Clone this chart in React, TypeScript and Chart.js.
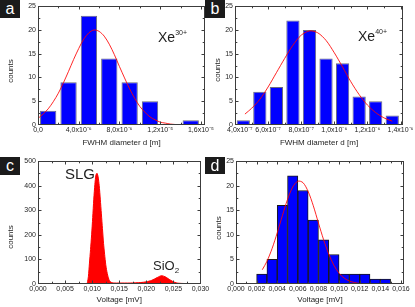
import React, { useEffect, useRef } from "react";
import { Chart, registerables } from "chart.js";

Chart.register(...registerables);

const FONT = "'Liberation Sans', Arial, Helvetica, sans-serif";
const INK = "#1e1e1e";
const FRAME = "#3c3c3c";

// ---------------- Panel a (Xe30+) ----------------
const aBinCenters = [1e-6, 3e-6, 5e-6, 7e-6, 9e-6, 1.1e-5, 1.3e-5, 1.5e-5];
const aCounts = [3, 9, 23, 14, 9, 5, 0, 1];
const aFitX = [0, 0.5e-6, 1e-6, 1.5e-6, 2e-6, 2.5e-6, 3e-6, 3.5e-6, 4e-6, 4.5e-6, 5e-6, 5.5e-6, 6e-6, 6.5e-6, 7e-6, 7.5e-6, 8e-6, 8.5e-6, 9e-6, 9.5e-6, 1e-5, 1.05e-5, 1.1e-5, 1.15e-5, 1.2e-5, 1.25e-5, 1.3e-5, 1.35e-5];
const aFitY = [1.4, 2.3, 3.4, 4.9, 6.7, 8.9, 11.3, 13.8, 16.1, 18.1, 19.4, 20.0, 19.7, 18.7, 17.0, 14.8, 12.3, 9.9, 7.6, 5.6, 3.9, 2.7, 1.7, 1.1, 0.6, 0.4, 0.2, 0.1];
const aXTicks = [0, 4e-6, 8e-6, 1.2e-5, 1.6e-5];
const aXTickLabels = ["0,0", "4,0x10⁻⁶", "8,0x10⁻⁶", "1,2x10⁻⁵", "1,6x10⁻⁵"];
const aYTicks = [0, 5, 10, 15, 20, 25];

// ---------------- Panel b (Xe40+) ----------------
const bBinCenters = [4.5e-7, 5.5e-7, 6.5e-7, 7.5e-7, 8.5e-7, 9.5e-7, 1.05e-6, 1.15e-6, 1.25e-6, 1.35e-6];
const bCounts = [1, 7, 8, 22, 20, 14, 13, 6, 5, 2];
const bFitX = [4.6e-7, 5.0e-7, 5.5e-7, 6.0e-7, 6.5e-7, 7.0e-7, 7.5e-7, 8.0e-7, 8.5e-7, 9.0e-7, 9.5e-7, 1.0e-6, 1.05e-6, 1.1e-6, 1.15e-6, 1.2e-6, 1.25e-6, 1.3e-6, 1.35e-6];
const bFitY = [2.3, 3.5, 5.4, 8.0, 11.0, 14.0, 16.8, 18.9, 19.8, 19.4, 17.8, 15.2, 12.2, 9.1, 6.4, 4.2, 2.6, 1.5, 0.8];
const bXTicks = [4e-7, 6e-7, 8e-7, 1e-6, 1.2e-6, 1.4e-6];
const bXTickLabels = ["\u00a0\u00a0\u00a0\u00a0\u00a04,0x10⁻⁷", "6,0x10⁻⁷", "8,0x10⁻⁷", "1,0x10⁻⁶", "1,2x10⁻⁶", "1,4x10⁻⁶"];
const bYTicks = [0, 5, 10, 15, 20, 25];

// ---------------- Panel c (voltage distribution) ----------------
const cVoltage = [0, 0.0085, 0.0089, 0.0091, 0.0093, 0.0095, 0.0097, 0.0099, 0.0101, 0.0103, 0.0105, 0.0107, 0.0109, 0.0111, 0.0113, 0.0115, 0.0117, 0.0119, 0.0121, 0.0123, 0.0125, 0.0127, 0.0129, 0.0131, 0.0133, 0.0136, 0.014, 0.015, 0.016, 0.017, 0.018, 0.019, 0.02, 0.021, 0.022, 0.0228, 0.0235, 0.024, 0.0245, 0.025, 0.0255, 0.026, 0.027, 0.028, 0.03];
const cCounts = [0, 0, 0, 5, 30, 85, 140, 200, 270, 345, 405, 443, 450, 435, 400, 345, 285, 225, 165, 120, 80, 52, 32, 18, 10, 6, 4, 4, 4, 4, 5, 6, 9, 15, 26, 34, 29, 22, 15, 9, 5, 3, 2, 1, 0];
const cXTicks = [0, 0.005, 0.01, 0.015, 0.02, 0.025, 0.03];
const cXTickLabels = ["0,000", "0,005", "0,010", "0,015", "0,020", "0,025", "0,030"];
const cYTicks = [0, 100, 200, 300, 400, 500];

// ---------------- Panel d (voltage histogram) ----------------
const dBinCenters = [0.0025, 0.0035, 0.0045, 0.0055, 0.0065, 0.0075, 0.0085, 0.0095, 0.0105, 0.0115, 0.0125, 0.0135, 0.0145];
const dCounts = [2, 5, 16, 22, 19, 13, 9, 6, 2, 2, 2, 1, 1];
const dFitX = [0.00255, 0.003, 0.0035, 0.004, 0.0045, 0.005, 0.0055, 0.006, 0.0065, 0.007, 0.0075, 0.008, 0.0085, 0.009, 0.0095, 0.01, 0.0105, 0.011, 0.0115, 0.012];
const dFitY = [2.9, 4.6, 7.2, 10.4, 13.9, 17.2, 19.7, 20.9, 20.6, 18.8, 15.9, 12.4, 9.0, 6.1, 3.8, 2.2, 1.2, 0.6, 0.3, 0.1];
const dXTicks = [0, 0.002, 0.004, 0.006, 0.008, 0.01, 0.012, 0.014, 0.016];
const dXTickLabels = ["0,000", "0,002", "0,004", "0,006", "0,008", "0,010", "0,012", "0,014", "0,016"];
const dYTicks = [0, 5, 10, 15, 20, 25];

const framePlugin = {
  id: "frameTicks",
  afterDatasetsDraw(chart: any) {
    const { ctx, chartArea } = chart;
    const xs = chart.scales.x;
    const ys = chart.scales.y;
    const L = Math.round(chartArea.left) + 0.5;
    const R = Math.round(chartArea.right) - 0.5;
    const T = Math.round(chartArea.top) + 0.5;
    const B = Math.round(chartArea.bottom) - 0.5;
    ctx.save();
    ctx.strokeStyle = FRAME;
    ctx.lineWidth = 1;
    ctx.strokeRect(L, T, R - L, B - T);
    const majLen = 3;
    const minLen = 1.8;
    const withMinor = (pix: number[], lo: number, hi: number) => {
      const minors: number[] = [];
      for (let i = 0; i < pix.length - 1; i++) minors.push((pix[i] + pix[i + 1]) / 2);
      if (pix.length > 1) {
        const d = pix[1] - pix[0];
        const last = pix[pix.length - 1] + d / 2;
        const first = pix[0] - d / 2;
        if (last > Math.min(lo, hi) + 1 && last < Math.max(lo, hi) - 1) minors.push(last);
        if (first > Math.min(lo, hi) + 1 && first < Math.max(lo, hi) - 1) minors.push(first);
      }
      return minors;
    };
    const xMaj = xs.ticks.map((t: any) => xs.getPixelForValue(t.value));
    const yMaj = ys.ticks.map((t: any) => ys.getPixelForValue(t.value));
    const xMin = withMinor(xMaj, L, R);
    const yMin = withMinor(yMaj, T, B);
    ctx.beginPath();
    const vx = (px: number, len: number) => {
      const p = Math.round(px) + 0.5;
      if (p < L || p > R) return;
      ctx.moveTo(p, B);
      ctx.lineTo(p, B - len);
      ctx.moveTo(p, T);
      ctx.lineTo(p, T + len);
    };
    const hy = (py: number, len: number) => {
      const p = Math.round(py) + 0.5;
      if (p < T || p > B) return;
      ctx.moveTo(L, p);
      ctx.lineTo(L + len, p);
      ctx.moveTo(R, p);
      ctx.lineTo(R - len, p);
    };
    xMaj.forEach((p: number) => vx(p, majLen));
    xMin.forEach((p: number) => vx(p, minLen));
    yMaj.forEach((p: number) => hy(p, majLen));
    yMin.forEach((p: number) => hy(p, minLen));
    ctx.stroke();
    ctx.restore();
  },
  afterDraw(chart: any, _args: any, opts: any) {
    if (!opts || !opts.yTitle) return;
    const { ctx } = chart;
    ctx.save();
    ctx.fillStyle = INK;
    ctx.font = `8px ${FONT}`;
    ctx.textAlign = "center";
    ctx.textBaseline = "middle";
    ctx.translate(opts.yTitleX, opts.yTitleY);
    ctx.rotate(-Math.PI / 2);
    ctx.fillText(opts.yTitle, 0, 0);
    ctx.restore();
  },
};

type Spec = {
  x: number; y: number; w: number; h: number;
  pad: { top: number; right: number; left: number; bottom: number };
  yWidth: number; xHeight: number;
  xMin: number; xMax: number; xTicks: number[]; xLabels: string[];
  yMax: number; yTicks: number[];
  xTitle: string; yTitleX: number; yTitleY: number;
  kind: "hist" | "area";
  datasets: any[];
};

function buildConfig(s: Spec): any {
  const tickFont = { family: FONT, size: 7 };
  return {
    type: s.kind === "area" ? "line" : "bar",
    data: { datasets: s.datasets },
    plugins: [framePlugin],
    options: {
      animation: false,
      responsive: false,
      devicePixelRatio: 1,
      events: [],
      layout: { padding: s.pad },
      plugins: {
        legend: { display: false },
        tooltip: { enabled: false },
        frameTicks: { yTitle: "counts", yTitleX: s.yTitleX, yTitleY: s.yTitleY },
      },
      scales: {
        x: {
          type: "linear",
          offset: false,
          min: s.xMin,
          max: s.xMax,
          afterBuildTicks: (sc: any) => {
            sc.ticks = s.xTicks.map((v) => ({ value: v }));
          },
          afterFit: (sc: any) => {
            sc.height = s.xHeight;
          },
          ticks: {
            autoSkip: false,
            maxRotation: 0,
            minRotation: 0,
            padding: 1,
            color: INK,
            font: tickFont,
            callback: (_v: any, i: number) => s.xLabels[i],
          },
          grid: { display: false, drawTicks: false },
          border: { display: false },
          title: {
            display: true,
            text: s.xTitle,
            color: INK,
            font: { family: FONT, size: 8 },
            padding: { top: 0, bottom: 2 },
          },
        },
        y: {
          type: "linear",
          min: 0,
          max: s.yMax,
          afterBuildTicks: (sc: any) => {
            sc.ticks = s.yTicks.map((v) => ({ value: v }));
          },
          afterFit: (sc: any) => {
            sc.width = s.yWidth;
          },
          ticks: {
            padding: 2,
            color: INK,
            font: tickFont,
            callback: (v: any) => String(v),
          },
          grid: { display: false, drawTicks: false },
          border: { display: false },
          title: { display: false },
        },
      },
    },
  };
}

const fitStyle = {
  type: "line",
  borderColor: "rgba(255,0,0,0.85)",
  borderWidth: 1,
  pointRadius: 0,
  tension: 0.3,
  fill: false,
  order: 0,
};

const pts = (xs: number[], ys: number[]) => xs.map((x, i) => ({ x, y: ys[i] }));

const specs: Spec[] = [
  {
    x: 0, y: 0, w: 230, h: 150,
    pad: { top: 4, right: 25, left: 0, bottom: 0 },
    yWidth: 38, xHeight: 25,
    xMin: 0, xMax: 1.64e-5, xTicks: aXTicks, xLabels: aXTickLabels,
    yMax: 25, yTicks: aYTicks,
    xTitle: "FWHM diameter d [m]", yTitleX: 11, yTitleY: 71,
    kind: "hist",
    datasets: [
      {
        type: "bar",
        data: pts(aBinCenters, aCounts),
        backgroundColor: "#0000ff",
        borderColor: "#6a6a80",
        borderWidth: 1,
        barPercentage: 0.8,
        categoryPercentage: 1,
        order: 1,
      },
      { ...fitStyle, data: pts(aFitX, aFitY) },
    ],
  },
  {
    x: 205, y: 0, w: 210, h: 150,
    pad: { top: 4, right: 12, left: 0, bottom: 0 },
    yWidth: 30, xHeight: 25,
    xMin: 4e-7, xMax: 1.415e-6, xTicks: bXTicks, xLabels: bXTickLabels,
    yMax: 25, yTicks: bYTicks,
    xTitle: "FWHM diameter d [m]", yTitleX: 12.5, yTitleY: 70,
    kind: "hist",
    datasets: [
      {
        type: "bar",
        data: pts(bBinCenters, bCounts),
        backgroundColor: "#0000ff",
        borderColor: "#6a6a80",
        borderWidth: 1,
        barPercentage: 0.8,
        categoryPercentage: 1,
        order: 1,
      },
      { ...fitStyle, data: pts(bFitX, bFitY) },
    ],
  },
  {
    x: 0, y: 153, w: 230, h: 154,
    pad: { top: 8, right: 29.5, left: 0, bottom: 0 },
    yWidth: 38, xHeight: 23,
    xMin: 0, xMax: 0.03, xTicks: cXTicks, xLabels: cXTickLabels,
    yMax: 500, yTicks: cYTicks,
    xTitle: "Voltage [mV]", yTitleX: 11, yTitleY: 84,
    kind: "area",
    datasets: [
      {
        type: "line",
        data: pts(cVoltage, cCounts),
        borderColor: "#ff0000",
        backgroundColor: "#ff0000",
        borderWidth: 1,
        pointRadius: 0,
        tension: 0.25,
        fill: "origin",
      },
    ],
  },
  {
    x: 205, y: 153, w: 210, h: 154,
    pad: { top: 8, right: 11, left: 0, bottom: 0 },
    yWidth: 31, xHeight: 23,
    xMin: 0, xMax: 0.0163, xTicks: dXTicks, xLabels: dXTickLabels,
    yMax: 25, yTicks: dYTicks,
    xTitle: "Voltage [mV]", yTitleX: 14, yTitleY: 75,
    kind: "hist",
    datasets: [
      {
        type: "bar",
        data: pts(dBinCenters, dCounts),
        backgroundColor: "#0000ff",
        borderColor: "#1a1a1a",
        borderWidth: 1,
        barPercentage: 1,
        categoryPercentage: 1,
        order: 1,
      },
      { ...fitStyle, data: pts(dFitX, dFitY) },
    ],
  },
];

function Panel({ spec }: { spec: Spec }) {
  const ref = useRef<HTMLCanvasElement | null>(null);
  useEffect(() => {
    if (!ref.current) return;
    const chart = new Chart(ref.current, buildConfig(spec));
    return () => chart.destroy();
  }, [spec]);
  return (
    <canvas
      ref={ref}
      width={spec.w}
      height={spec.h}
      style={{ position: "absolute", left: spec.x, top: spec.y, width: spec.w, height: spec.h }}
    />
  );
}

const labelBox = (text: string, left: number, top: number, h: number) => (
  <div
    key={text}
    style={{
      position: "absolute",
      left,
      top,
      width: 20,
      height: h,
      background: "#1b1b1b",
      color: "#ffffff",
      font: `16px ${FONT}`,
      lineHeight: `${h}px`,
      textAlign: "center",
      zIndex: 2,
    }}
  >
    {text}
  </div>
);

const annot = (left: number, top: number, size: number, children: any) => (
  <div
    style={{
      position: "absolute",
      left,
      top,
      font: `${size}px ${FONT}`,
      lineHeight: `${size}px`,
      color: INK,
      whiteSpace: "nowrap",
      zIndex: 2,
    }}
  >
    {children}
  </div>
);

export default function App() {
  return (
    <div
      style={{
        position: "fixed",
        left: 0,
        top: 0,
        width: 415,
        height: 307,
        background: "#ffffff",
        overflow: "hidden",
      }}
    >
      {specs.map((s, i) => (
        <Panel key={i} spec={s} />
      ))}
      {labelBox("a", 0, 0, 18)}
      {labelBox("b", 205, 0, 18)}
      {labelBox("c", 0, 157, 18)}
      {labelBox("d", 205, 157, 17)}
      {annot(158, 30, 14, (
        <>
          Xe<span style={{ fontSize: 7, position: "relative", top: -7 }}>30+</span>
        </>
      ))}
      {annot(358, 29, 14, (
        <>
          Xe<span style={{ fontSize: 7, position: "relative", top: -7 }}>40+</span>
        </>
      ))}
      {annot(65, 166, 15, <>SLG</>)}
      {annot(153, 259, 13, (
        <>
          SiO<span style={{ fontSize: 8, position: "relative", top: 3 }}>2</span>
        </>
      ))}
    </div>
  );
}
